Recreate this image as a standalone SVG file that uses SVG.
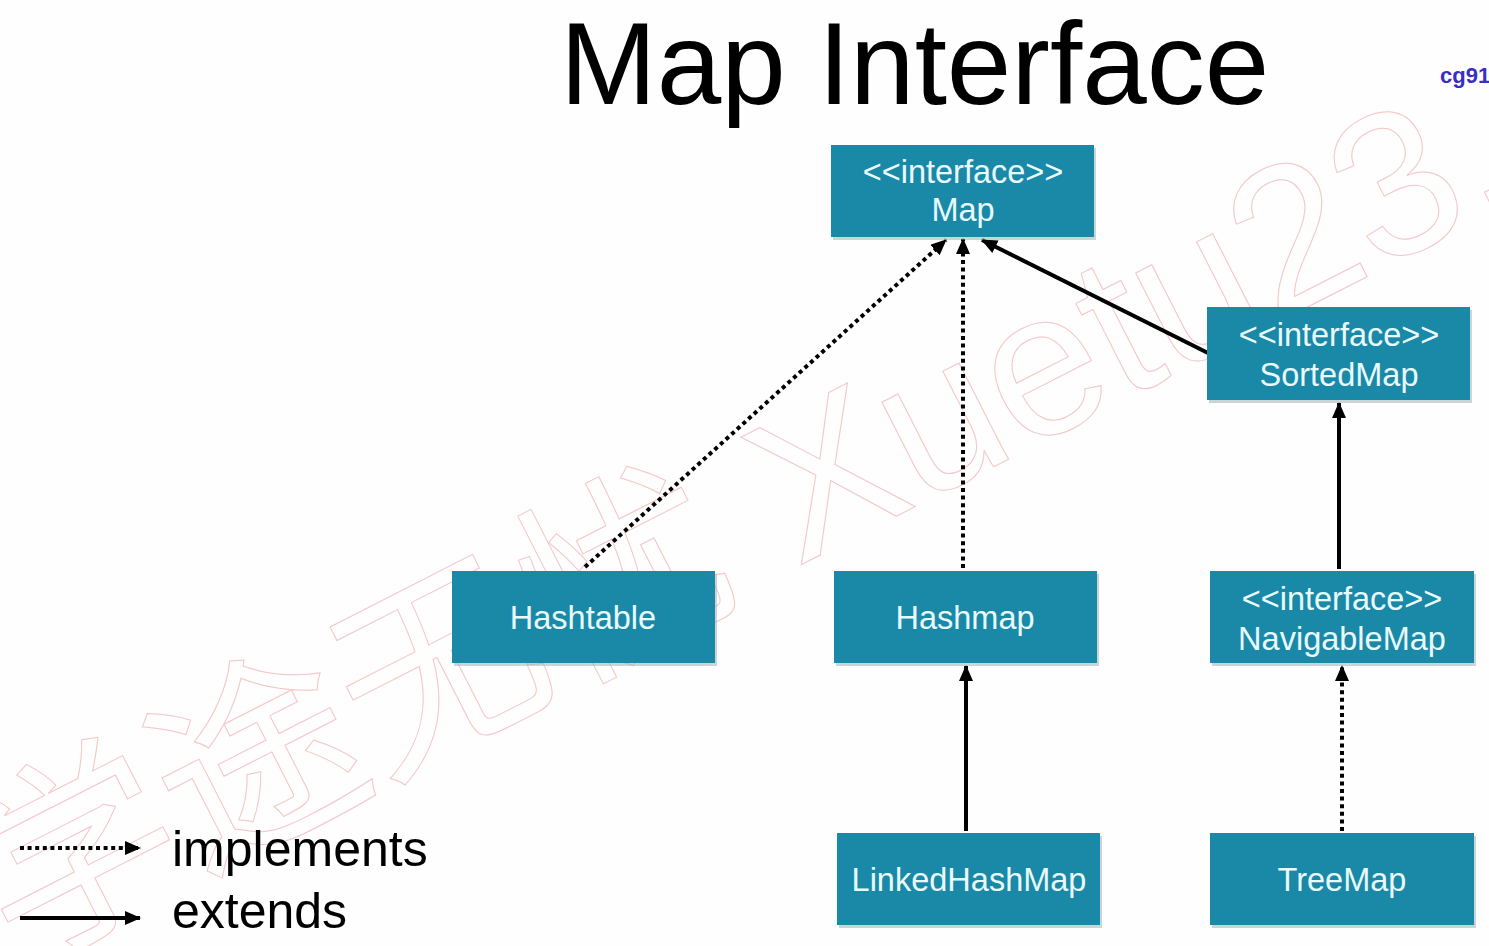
<svg xmlns="http://www.w3.org/2000/svg" width="1489" height="946" viewBox="0 0 1489 946">
<style>
.node rect.box{fill:#1a88a7}
.node rect.sh{fill:#8fa3aa;opacity:0.45}
.node text{font-family:"Liberation Sans",Arial,sans-serif;font-size:32.5px;fill:#e8fbff;text-anchor:middle}
.edge{stroke:#000;stroke-width:4;fill:none}
.dot{stroke-dasharray:4 3.6}
.wm{font-family:"Liberation Sans","Noto Sans CJK SC",sans-serif;font-size:205px;fill:none;stroke:#f3c6c6;stroke-width:1}
</style>
<defs>
<marker id="ah" markerUnits="userSpaceOnUse" markerWidth="16" markerHeight="14" viewBox="0 0 16 14" refX="15" refY="7" orient="auto">
<path d="M0,0 L16,7 L0,14 z" fill="#000"/>
</marker>
</defs>
<rect width="1489" height="946" fill="#fefefe"/>
<text class="wm" transform="translate(16,965) rotate(-27)">学途无忧 Xuetu23.</text>
<text x="560" y="104" font-family="'Liberation Sans',Arial,sans-serif" font-size="116" fill="#000">Map Interface</text>
<text x="1440" y="83" font-family="'Liberation Sans',Arial,sans-serif" font-size="22" font-weight="bold" fill="#3a2fc0">cg91</text>
<g id="connectors">
<line class="edge dot" x1="585" y1="567" x2="946" y2="240" marker-end="url(#ah)"/>
<line class="edge dot" x1="963" y1="568" x2="963" y2="239" marker-end="url(#ah)"/>
<line class="edge" x1="1218" y1="358" x2="982" y2="240" marker-end="url(#ah)"/>
<line class="edge" x1="1339" y1="569" x2="1339" y2="403" marker-end="url(#ah)"/>
<line class="edge" x1="966" y1="831" x2="966" y2="666" marker-end="url(#ah)"/>
<line class="edge dot" x1="1342" y1="831" x2="1342" y2="666" marker-end="url(#ah)"/>
</g>
<g id="node-map" class="node">
<rect class="sh" x="833" y="148" width="263" height="92"/>
<rect class="box" x="831" y="145" width="263" height="92"/>
<text x="963" y="183">&lt;&lt;interface&gt;&gt;</text>
<text x="963" y="221">Map</text>
</g>
<g id="node-sortedmap" class="node">
<rect class="sh" x="1209" y="310" width="263" height="93"/>
<rect class="box" x="1207" y="307" width="263" height="93"/>
<text x="1339" y="346">&lt;&lt;interface&gt;&gt;</text>
<text x="1339" y="386">SortedMap</text>
</g>
<g id="node-hashtable" class="node">
<rect class="sh" x="454" y="574" width="263" height="92"/>
<rect class="box" x="452" y="571" width="263" height="92"/>
<text x="583" y="629">Hashtable</text>
</g>
<g id="node-hashmap" class="node">
<rect class="sh" x="836" y="574" width="263" height="92"/>
<rect class="box" x="834" y="571" width="263" height="92"/>
<text x="965" y="629">Hashmap</text>
</g>
<g id="node-navigablemap" class="node">
<rect class="sh" x="1212" y="574" width="264" height="92"/>
<rect class="box" x="1210" y="571" width="264" height="92"/>
<text x="1342" y="610">&lt;&lt;interface&gt;&gt;</text>
<text x="1342" y="650">NavigableMap</text>
</g>
<g id="node-linkedhashmap" class="node">
<rect class="sh" x="839" y="836" width="263" height="92"/>
<rect class="box" x="837" y="833" width="263" height="92"/>
<text x="969" y="891">LinkedHashMap</text>
</g>
<g id="node-treemap" class="node">
<rect class="sh" x="1212" y="836" width="264" height="92"/>
<rect class="box" x="1210" y="833" width="264" height="92"/>
<text x="1342" y="891">TreeMap</text>
</g>
<g id="legend">
<line class="edge dot" x1="20" y1="848" x2="140" y2="848" marker-end="url(#ah)"/>
<line class="edge" x1="20" y1="918" x2="140" y2="918" marker-end="url(#ah)"/>
<text x="172" y="866" font-family="'Liberation Sans',Arial,sans-serif" font-size="50" fill="#000">implements</text>
<text x="172" y="928" font-family="'Liberation Sans',Arial,sans-serif" font-size="50" fill="#000">extends</text>
</g>
</svg>
